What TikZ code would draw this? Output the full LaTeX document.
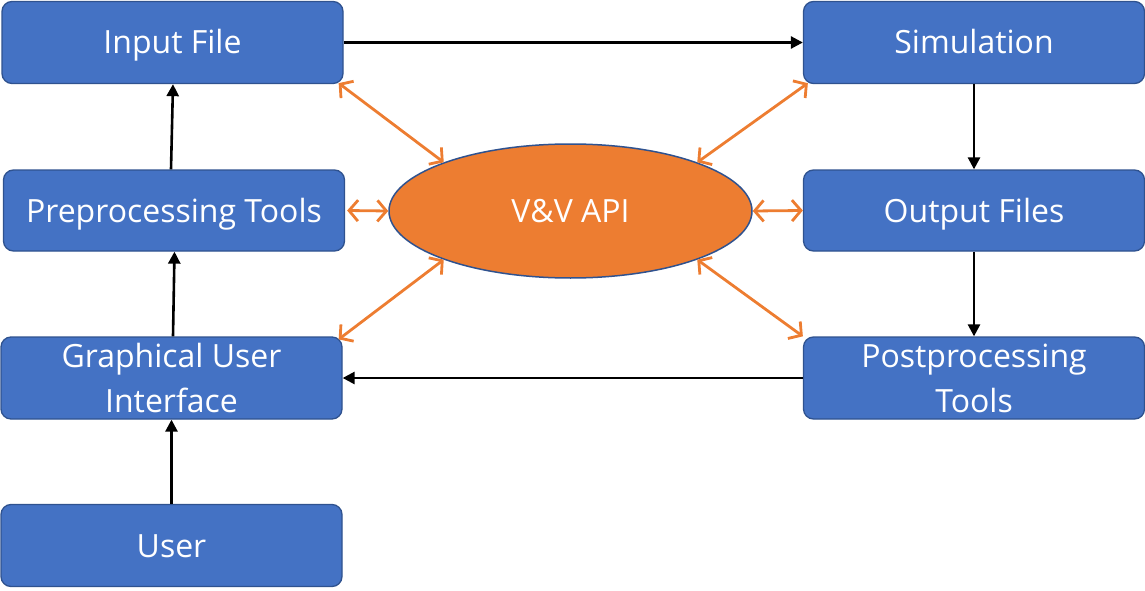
\documentclass[tikz,border=0pt]{standalone}
\usepackage{fontspec}
\setmainfont{Open Sans}
\usetikzlibrary{arrows.meta,shapes.geometric,calc}
\definecolor{boxfill}{HTML}{4472C4}
\definecolor{boxline}{HTML}{2F528F}
\definecolor{apiorange}{HTML}{ED7D31}
\tikzset{
  blockbox/.style={draw=boxline, line width=1.3pt, fill=boxfill, rounded corners=10pt,
    minimum width=341pt, minimum height=82pt, inner sep=0pt, text=white,
    font=\fontsize{32}{45}\selectfont, align=center},
  oneline/.style={text height=23pt, text depth=0pt},
  apibox/.style={ellipse, draw=boxline, line width=1.5pt, fill=apiorange,
    minimum width=363pt, minimum height=134pt, inner sep=0pt, text=white,
    font=\fontsize{32}{45}\selectfont, text height=23pt, text depth=0pt},
  flow/.style={draw=black, line width=2.6pt, -{Triangle[width=12pt,length=12pt]}},
  link/.style={draw=apiorange, line width=2.8pt,
    {Straight Barb[length=9pt,width=21pt,line width=2.8pt]}-{Straight Barb[length=9pt,width=21pt,line width=2.8pt]}}
}
\begin{document}
\begin{tikzpicture}[x=1pt,y=-1pt]
\useasboundingbox (0,0) rectangle (1145,591);
\node[blockbox, oneline] (in) at (172.5,42.5) {Input File};
\node[blockbox, oneline] (sim) at (974,42.5) {Simulation};
\node[blockbox, oneline, minimum height=81pt] (pre) at (174,210.5) {Preprocessing Tools};
\node[blockbox, oneline, minimum height=81pt] (out) at (974,210.5) {Output Files};
\node[blockbox] (gui) at (171.5,378) {Graphical User\\Interface};
\node[blockbox] (post) at (974,378) {Postprocessing\\Tools};
\node[blockbox, oneline] (user) at (171.5,545.5) {User};
\node[apibox] (vv) at (570.5,211) {V\&V API};

\draw[flow] (in.east) -- (sim.west);
\draw[flow] (sim.south) -- (out.north);
\draw[flow] (out.south) -- (post.north);
\draw[flow] (post.west) -- (gui.east);
\draw[flow] (user.north) -- (gui.south);
\draw[flow] ($(gui.north)+(1.5,0)$) -- ($(pre.south)+(0.5,0)$);
\draw[flow] ($(pre.north)+(-3,0)$) -- ($(in.south)+(0.5,0)$);

\draw[link] ($(in.south east)+(-5,-1)$) -- (vv.159);
\draw[link] ($(sim.south west)+(5,-1)$) -- (vv.21);
\draw[link] ($(pre.east)+(2,0)$) -- (vv.west);
\draw[link] (vv.east) -- (out.west);
\draw[link] ($(gui.north east)+(-4,3)$) -- (vv.201);
\draw[link] (post.north west) -- (vv.-21);
\end{tikzpicture}
\end{document}
